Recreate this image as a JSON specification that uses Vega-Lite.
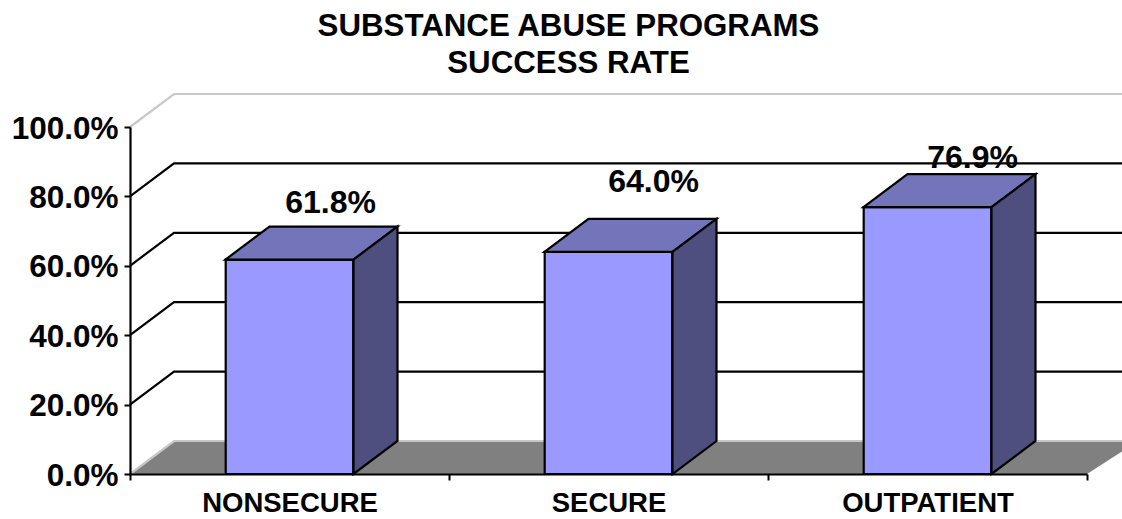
{
"$schema":"https://vega.github.io/schema/vega-lite/v6.json",
"width":957,"height":347,
"autosize":{"type":"none"},
"padding":{"left":130,"top":127,"right":35,"bottom":45},
"background":"white",
"config":{"view":{"stroke":null},"font":"Liberation Sans"},
"title":{"text":["SUBSTANCE ABUSE PROGRAMS","SUCCESS RATE"],"font":"Liberation Sans","fontSize":31.25,"fontWeight":"bold","color":"black","lineHeight":37,"anchor":"middle","frame":"group","dx":-40,"offset":10},
"datasets":{
"programs":[{"program":"NONSECURE","rate":0.618},{"program":"SECURE","rate":0.64},{"program":"OUTPATIENT","rate":0.769}],
"ticks":[{"program":"SECURE","tick":0,"kind":"edge"},{"program":"SECURE","tick":0.2,"kind":"grid"},{"program":"SECURE","tick":0.4,"kind":"grid"},{"program":"SECURE","tick":0.6,"kind":"grid"},{"program":"SECURE","tick":0.8,"kind":"grid"},{"program":"SECURE","tick":1,"kind":"edge"}]
},
"data":{"name":"programs"},
"layer":[
{"transform":[{"filter":"datum.program === 'SECURE'"}],
 "mark":{"type":"point","shape":"M-478.5 0 L-434.5 -33 L530 -33 L478.5 0 Z","size":4,"filled":true,"fill":"#808080","opacity":1,"strokeWidth":0},
 "encoding":{"x":{"field":"program","type":"nominal"},"y":{"datum":0,"type":"quantitative"}}},
{"data":{"name":"ticks"},
 "mark":{"type":"point","shape":"M-478.5 0 L-434.5 -33 L530 -33","size":4,"filled":false,"fill":null,"opacity":1,"strokeWidth":2.2},
 "encoding":{"x":{"field":"program","type":"nominal"},"y":{"field":"tick","type":"quantitative"},
  "stroke":{"field":"kind","type":"nominal","scale":{"domain":["edge","grid"],"range":["#c8c8c8","black"]},"legend":null}}},
{"mark":{"type":"bar","fill":"#9999ff","stroke":"black","strokeWidth":2.2,"width":{"band":0.4}},
 "encoding":{
  "x":{"field":"program","type":"nominal","sort":["NONSECURE","SECURE","OUTPATIENT"],"scale":{"domain":["NONSECURE","SECURE","OUTPATIENT"],"padding":0},
   "axis":{"title":null,"labelAngle":0,"labelAlign":"center","labelFont":"Liberation Sans","labelFontSize":27.5,"labelFontWeight":"bold","labelColor":"black","labelPadding":23,"tickBand":"extent","tickSize":6,"tickWidth":2,"tickColor":"black","domainColor":"black","domainWidth":2.2,"grid":false,"labelOverlap":false,"zindex":1}},
  "y":{"field":"rate","type":"quantitative","scale":{"domain":[0,1],"nice":false},
   "axis":{"title":null,"values":[0,0.2,0.4,0.6,0.8,1],"format":".1%","labelFont":"Liberation Sans","labelFontSize":31.5,"labelFontWeight":"bold","labelColor":"black","labelPadding":6,"labelOffset":2,"tickSize":6,"tickWidth":2,"tickColor":"black","domainColor":"black","domainWidth":2.2,"grid":false,"zindex":1}}}},
{"mark":{"type":"point","shape":"M-64 0 L-20 -33 L108 -33 L64 0 Z","size":4,"filled":true,"fill":"#7474bb","stroke":"black","strokeWidth":2.2,"opacity":1},
 "encoding":{"x":{"field":"program","type":"nominal"},"y":{"field":"rate","type":"quantitative"}}},
{"mark":{"type":"point","size":4,"filled":true,"fill":"#4f4f7f","stroke":"black","strokeWidth":2.2,"opacity":1},
 "encoding":{"x":{"field":"program","type":"nominal"},"y":{"field":"rate","type":"quantitative"},
  "shape":{"field":"program","type":"nominal","legend":null,"scale":{"domain":["NONSECURE","SECURE","OUTPATIENT"],"range":["M64 0 L108 -33 L108 181.4 L64 214.4 Z","M64 0 L108 -33 L108 189.1 L64 222.1 Z","M64 0 L108 -33 L108 233.8 L64 266.8 Z"]}}}},
{"transform":[{"filter":"datum.program === 'NONSECURE'"}],
 "mark":{"type":"text","font":"Liberation Sans","fontSize":32,"fontWeight":"bold","color":"black","dx":41,"dy":-57},
 "encoding":{"x":{"field":"program","type":"nominal"},"y":{"field":"rate","type":"quantitative"},"text":{"field":"rate","type":"quantitative","format":".1%"}}},
{"transform":[{"filter":"datum.program === 'SECURE'"}],
 "mark":{"type":"text","font":"Liberation Sans","fontSize":32,"fontWeight":"bold","color":"black","dx":45,"dy":-70},
 "encoding":{"x":{"field":"program","type":"nominal"},"y":{"field":"rate","type":"quantitative"},"text":{"field":"rate","type":"quantitative","format":".1%"}}},
{"transform":[{"filter":"datum.program === 'OUTPATIENT'"}],
 "mark":{"type":"text","font":"Liberation Sans","fontSize":32,"fontWeight":"bold","color":"black","dx":45,"dy":-49},
 "encoding":{"x":{"field":"program","type":"nominal"},"y":{"field":"rate","type":"quantitative"},"text":{"field":"rate","type":"quantitative","format":".1%"}}}
]
}
